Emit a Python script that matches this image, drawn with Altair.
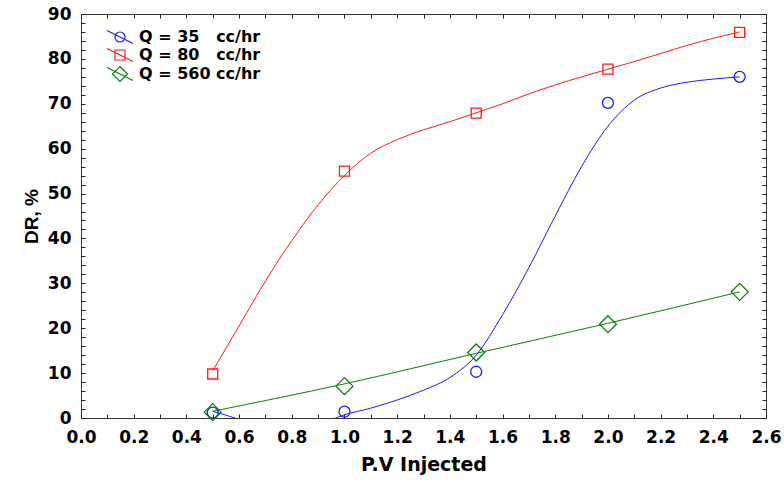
import altair as alt
import pandas as pd

pv = [0.5, 1.0, 1.5, 2.0, 2.5]
dr_q35 = [1.2, 1.4, 10.3, 70.2, 76.0]
dr_q80 = [9.8, 55.0, 67.9, 77.7, 85.9]
dr_q560 = [1.3, 7.1, 14.6, 20.9, 28.1]

# ---- fitted curves ----
fit_x = [0.5, 0.6, 0.7, 0.8, 0.9, 1.0, 1.1, 1.2, 1.3, 1.4, 1.5,
         1.6, 1.7, 1.8, 1.9, 2.0, 2.1, 2.2, 2.3, 2.4, 2.5]
fit_q35 = [1.5, -0.3, -2.5, -3.0, -1.5, 0.7, 2.2, 4.0, 6.2, 9.0, 14.0,
           23.0, 33.5, 45.0, 56.0, 65.0, 70.8, 73.5, 74.8, 75.5, 76.0]
fit_q80 = [10.5, 20.5, 30.5, 39.5, 47.5, 54.0, 59.0, 62.0, 64.2, 66.0, 68.0,
           70.0, 72.2, 74.2, 76.0, 77.7, 79.4, 81.2, 83.0, 84.6, 86.0]
fit_q560_x = [0.5, 1.0, 1.5, 2.0, 2.5]
fit_q560 = [1.5, 7.6, 14.4, 21.1, 28.1]

series = ["Q = 35\u00a0\u00a0\u00a0cc/hr", "Q = 80\u00a0\u00a0\u00a0cc/hr", "Q = 560 cc/hr"]
colors = ["#1a1aff", "#ff1a1a", "#0b7f0b"]

x_label_values = [0.0, 0.2, 0.4, 0.6, 0.8, 1.0, 1.2, 1.4, 1.6, 1.8, 2.0, 2.2, 2.4, 2.6]
x_tick_values = [0.0, 0.1, 0.2, 0.3, 0.4, 0.5, 0.6, 0.7, 0.8, 0.9, 1.0, 1.1, 1.2, 1.3,
                 1.4, 1.5, 1.6, 1.7, 1.8, 1.9, 2.0, 2.1, 2.2, 2.3, 2.4, 2.5, 2.6]
y_label_values = [0, 10, 20, 30, 40, 50, 60, 70, 80, 90]
y_tick_values = list(range(0, 91, 2))

# ---- tables ----
pts = pd.DataFrame({
    "x": pv * 3,
    "y": dr_q35 + dr_q80 + dr_q560,
    "series": [series[0]] * 5 + [series[1]] * 5 + [series[2]] * 5,
})
curves = pd.DataFrame({
    "x": fit_x + fit_x + fit_q560_x,
    "y": fit_q35 + fit_q80 + fit_q560,
    "series": [series[0]] * len(fit_x) + [series[1]] * len(fit_x) + [series[2]] * len(fit_q560_x),
})

W, H = 685, 404
xs = alt.Scale(domain=[0, 2.6], nice=False, zero=False)
ys = alt.Scale(domain=[0, 90], nice=False, zero=False)

FONT = "DejaVu Sans"
tick_common = dict(labels=False, domain=False, ticks=True, tickSize=4,
                   tickColor="#222", tickWidth=1, title=None, grid=False)

x_label_axis = alt.Axis(orient="bottom", values=x_label_values, format=".1f",
                        ticks=False, domain=False, grid=False,
                        labelFlush=False, labelOverlap=False,
                        labelFont=FONT, labelFontWeight="bold", labelFontSize=17,
                        labelColor="black", labelPadding=11,
                        title="P.V Injected", titleFont=FONT, titleFontWeight="bold",
                        titleFontSize=19, titleColor="black", titlePadding=10)
y_label_axis = alt.Axis(orient="left", values=y_label_values, format="d",
                        ticks=False, domain=False, grid=False,
                        labelFlush=False, labelOverlap=False,
                        labelFont=FONT, labelFontWeight="bold", labelFontSize=17,
                        labelColor="black", labelPadding=10,
                        title="DR, %", titleFont="Liberation Sans", titleFontWeight="bold",
                        titleFontSize=19, titleColor="black", titlePadding=6)

stroke_enc = alt.Stroke("series:N", scale=alt.Scale(domain=series, range=colors), legend=None)

lines = alt.Chart(curves).mark_line(clip=True, strokeWidth=1, interpolate="monotone").encode(
    x=alt.X("x:Q", scale=xs, axis=x_label_axis),
    y=alt.Y("y:Q", scale=ys, axis=y_label_axis),
    stroke=stroke_enc,
    order="x:Q",
)

point_paths = [
    "M0.55,0A0.55,0.55,0,1,1,-0.55,0A0.55,0.55,0,1,1,0.55,0Z",
    "M-0.5,-0.5L0.5,-0.5L0.5,0.5L-0.5,0.5Z",
    "M0,-0.85L0.85,0L0,0.85L-0.85,0Z",
]
points = alt.Chart(pts).mark_point(filled=False, size=400, opacity=1).encode(
    x=alt.X("x:Q", scale=xs, axis=alt.Axis(orient="top", offset=-H, values=x_tick_values, **tick_common)),
    y=alt.Y("y:Q", scale=ys, axis=alt.Axis(orient="right", offset=-W, values=y_tick_values, **tick_common)),
    stroke=stroke_enc,
    shape=alt.Shape("series:N", scale=alt.Scale(domain=series, range=point_paths), legend=None),
    strokeWidth=alt.StrokeWidth("series:N", scale=alt.Scale(domain=series, range=[1.3, 1.3, 2.2]), legend=None),
)

legend_paths = [
    "M-2,-1L2,1M0.77,0A0.77,0.77,0,1,1,-0.77,0A0.77,0.77,0,1,1,0.77,0Z",
    "M-2,-1L2,1M-0.77,-0.77L0.77,-0.77L0.77,0.77L-0.77,0.77Z",
    "M-2,-1L2,1M0,-1.15L1.15,0L0,1.15L-1.15,0Z",
]
leg = alt.Legend(orient="none", legendX=31, legendY=15, title=None, padding=0,
                 symbolSize=169, symbolFillColor="transparent",
                 labelFont=FONT, labelFontWeight="bold", labelFontSize=16,
                 labelColor="black", labelOffset=11, rowPadding=0, labelLimit=300)
legend_layer = alt.Chart(pts).transform_filter("false").mark_point(filled=False, size=169, opacity=1).encode(
    x=alt.X("x:Q", scale=xs, axis=alt.Axis(orient="bottom", offset=-H, values=x_tick_values, **tick_common)),
    y=alt.Y("y:Q", scale=ys, axis=alt.Axis(orient="left", offset=-W, values=y_tick_values, **tick_common)),
    color=alt.Color("series:N", scale=alt.Scale(domain=series, range=colors), legend=leg),
    shape=alt.Shape("series:N", scale=alt.Scale(domain=series, range=legend_paths), legend=leg),
    strokeWidth=alt.StrokeWidth("series:N", scale=alt.Scale(domain=series, range=[1.2, 1.2, 2.0]), legend=leg),
)

chart = alt.layer(lines, points, legend_layer).resolve_axis(
    x="independent", y="independent"
).resolve_scale(
    shape="independent", strokeWidth="independent", color="independent"
).properties(
    width=W, height=H,
    autosize=alt.AutoSizeParams(type="none"),
    padding={"left": 81, "top": 14, "right": 18, "bottom": 66},
    background="white",
).configure_view(stroke="#333", strokeWidth=1)

chart.save("out.html", embed_options={"renderer": "svg", "actions": False})
